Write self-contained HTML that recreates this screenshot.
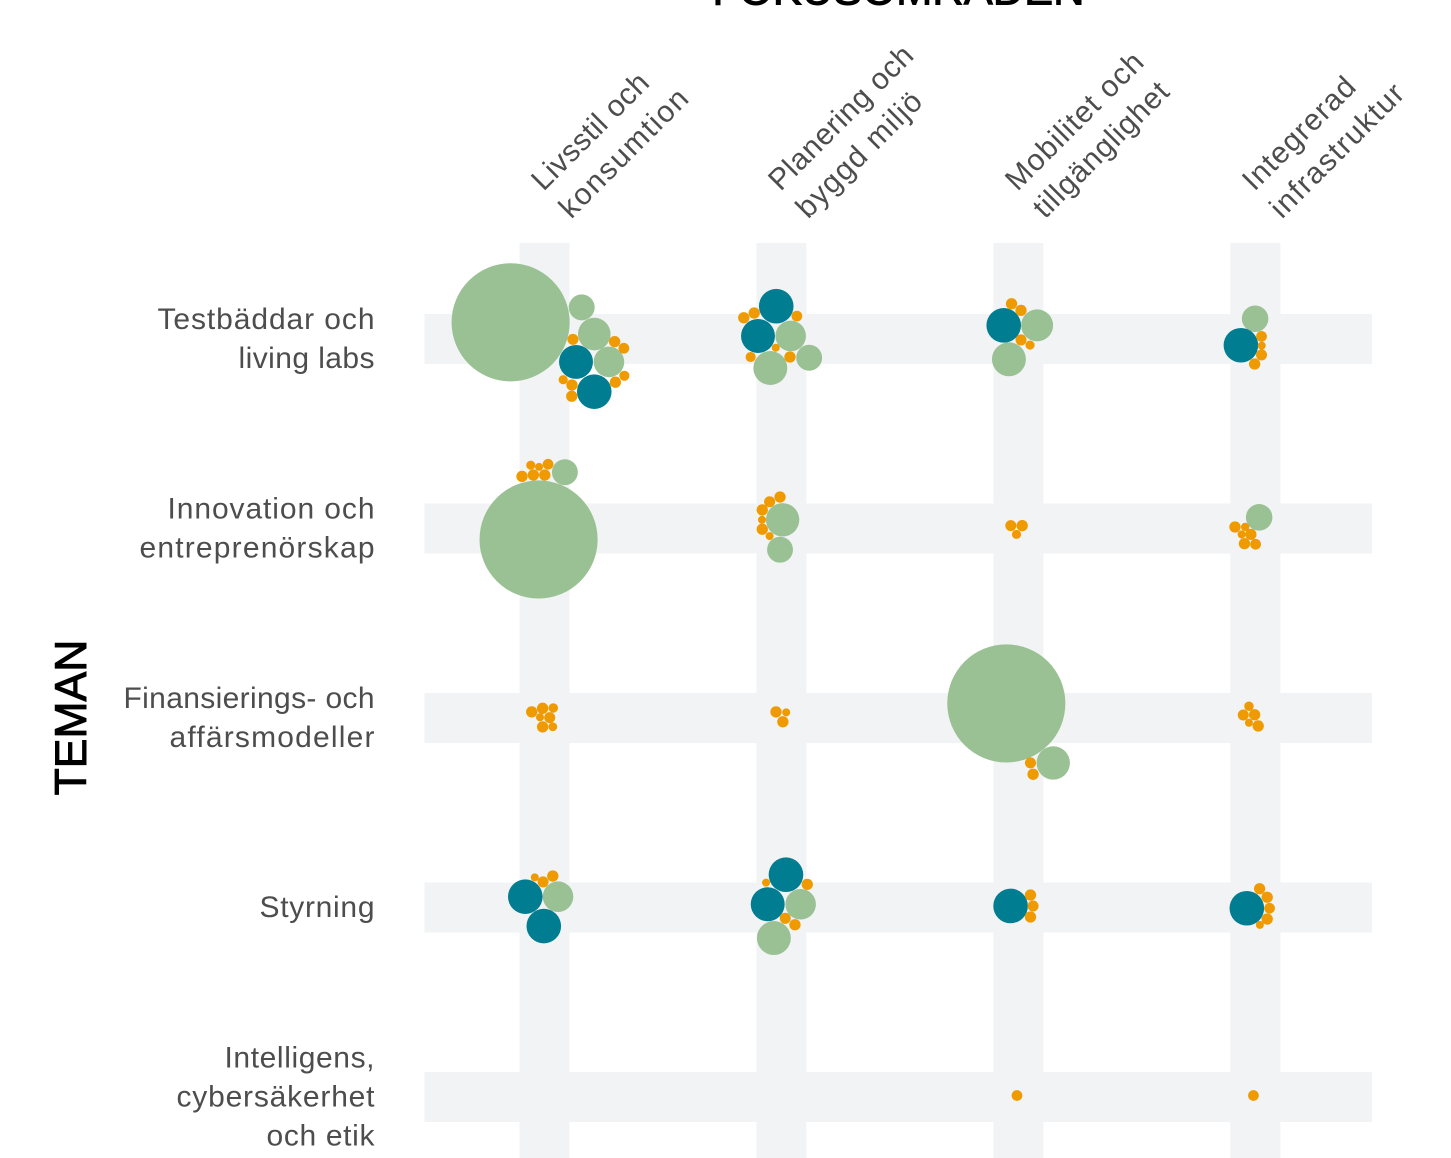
<!DOCTYPE html>
<html lang="sv">
<head>
<meta charset="utf-8">
<title>Fokusområden och teman</title>
<style>
html,body{margin:0;padding:0;background:#fff;width:1451px;height:1158px;overflow:hidden}
svg{display:block}
text{font-family:"Liberation Sans","DejaVu Sans",sans-serif}
.row-label,.col-label{font-size:30px;fill:#4d4d4d}
.axis-title{fill:#000;stroke:#000;stroke-width:1px}
</style>
</head>
<body>
<svg id="chart" width="1451" height="1158" viewBox="0 0 1451 1158" xmlns="http://www.w3.org/2000/svg">
  <rect width="1451" height="1158" fill="#fff"/>
  <g id="bands"></g>
  <g id="bubbles"></g>
  <g id="row-labels"></g>
  <g id="col-labels"></g>
  <text class="axis-title" x="898.5" y="4.5" font-size="43.5" text-anchor="middle">FOKUSOMRÅDEN</text>
  <text class="axis-title" transform="translate(86,717.5) rotate(-90)" font-size="44.5" text-anchor="middle">TEMAN</text>
</svg>
<script>
const focusAreas = [["Livsstil och","konsumtion"],["Planering och","byggd miljö"],["Mobilitet och","tillgänglighet"],["Integrerad","infrastruktur"]];
const themes = [["Testbäddar och","living labs"],["Innovation och","entreprenörskap"],["Finansierings- och","affärsmodeller"],["Styrning"],["Intelligens,","cybersäkerhet","och etik"]];

const greenX = [-0.143,0.157,0.210,0.272,1.039,0.953,1.117,2.079,1.960,2.999,-0.025,0.086,1.005,0.994,3.016,1.949,2.147,0.057,1.081,0.968];
const greenY = [-0.088,-0.167,-0.026,0.121,-0.016,0.153,0.099,-0.072,0.107,-0.107,1.058,0.703,0.954,1.112,0.941,1.923,2.237,2.943,2.983,3.161];
const greenSize = [218,10.5,16.6,14.6,14.6,18,10.5,16,18,11,218,10.5,17.4,10.5,11,218,17.4,14.6,14.6,18];

const tealX = [0.133,0.210,0.978,0.901,1.938,2.939,-0.081,-0.003,1.019,0.942,1.967,2.964];
const tealY = [0.121,0.278,-0.173,-0.016,-0.072,0.033,2.943,3.098,2.827,2.983,2.992,3.004];
const tealSize = [18,18.7,18.7,18,18.7,18.7,18.7,18.7,18.7,18,18.7,18.7];

const orangeX = [0.120,0.296,0.335,0.337,0.299,0.079,0.116,0.115,0.841,0.885,1.065,0.976,0.870,1.036,1.971,2.011,2.011,2.049,3.026,3.027,3.026,2.997,
  -0.095,-0.047,0.001,-0.058,-0.023,0.015,0.994,0.950,0.919,0.918,0.919,0.950,1.968,2.016,1.992,2.914,2.957,2.942,2.981,2.954,3.001,
  -0.054,-0.008,0.037,-0.019,0.022,-0.008,0.035,0.977,1.020,1.006,2.051,2.062,2.973,2.949,2.997,2.973,3.012,
  -0.041,-0.006,0.035,0.935,1.109,1.016,1.057,2.051,2.062,2.051,3.018,3.050,3.060,3.050,3.019,
  1.994,2.992];
const orangeY = [0.002,0.014,0.049,0.194,0.228,0.215,0.243,0.302,-0.112,-0.137,-0.121,0.046,0.095,0.095,-0.186,-0.151,0.005,0.032,-0.014,0.035,0.084,0.132,
  0.725,0.718,0.718,0.666,0.675,0.661,0.834,0.859,0.902,0.954,1.004,1.040,0.985,0.985,1.031,0.992,0.992,1.031,1.031,1.080,1.083,
  1.968,1.949,1.947,1.996,1.998,2.047,2.046,1.968,1.970,2.020,2.237,2.297,1.938,1.984,1.983,2.025,2.042,
  2.841,2.865,2.834,2.869,2.878,3.057,3.091,2.934,2.992,3.050,2.901,2.946,3.004,3.061,3.092,
  3.992,3.992];
const orangeSize = [1.9,2,1.8,1.6,2,1.3,2,2,2,2,1.8,1,1.6,2,2,2,1.9,1.3,1.8,1,1.9,2,
  2,2,2,1.3,1,1.8,2,1.9,2,1,2,1,1.9,2,1.3,2,1.1,1,2,2,1.8,
  2,2,1.4,1,1.9,2,1.2,2,1,2,1.9,2,1.4,1.9,2,1,2,
  1,1.9,2,1,2,1.9,2,2,1.9,2,2,2,1.8,2,1,
  1.8,1.8];

const NS = "http://www.w3.org/2000/svg";
function xScale(v){ return 544.5 + v * 236.95; }
function yScale(v){ return 339 + v * 189.5; }
function rScale(v){ return 4 * Math.sqrt(v); }

// Typesetting only: rendered line lengths, so the substitute font fills the same run as the original.
const lineLengthPx = new Map();
lineLengthPx.set("Livsstil och", 152);
lineLengthPx.set("konsumtion", 168.5);
lineLengthPx.set("Planering och", 190.5);
lineLengthPx.set("byggd miljö", 164);
lineLengthPx.set("Mobilitet och", 181);
lineLengthPx.set("tillgänglighet", 178);
lineLengthPx.set("Integrerad", 146);
lineLengthPx.set("infrastruktur", 175.5);
lineLengthPx.set("Testbäddar och", 217);
lineLengthPx.set("living labs", 136);
lineLengthPx.set("Innovation och", 207);
lineLengthPx.set("entreprenörskap", 235);
lineLengthPx.set("Finansierings- och", 251);
lineLengthPx.set("affärsmodeller", 205);
lineLengthPx.set("Styrning", 115);
lineLengthPx.set("Intelligens,", 150);
lineLengthPx.set("cybersäkerhet", 198);
lineLengthPx.set("och etik", 108);

const bandsG = document.getElementById("bands");
const bubblesG = document.getElementById("bubbles");
const rowLabelsG = document.getElementById("row-labels");
const colLabelsG = document.getElementById("col-labels");

focusAreas.forEach(function(lines, i){
  const band = document.createElementNS(NS, "rect");
  band.setAttribute("x", xScale(i) - 25);
  band.setAttribute("y", 243);
  band.setAttribute("width", 50);
  band.setAttribute("height", 915);
  band.setAttribute("fill", "#f2f3f5");
  
  
  bandsG.appendChild(band);

  const group = document.createElementNS(NS, "g");
  group.setAttribute("transform", "translate(" + (xScale(i) - 1) + ",192) rotate(-45)");
  
  
  lines.forEach(function(line, k){
    const t = document.createElementNS(NS, "text");
    t.setAttribute("class", "col-label");
    t.setAttribute("x", 0);
    t.setAttribute("y", k * 39);
    t.setAttribute("textLength", lineLengthPx.get(line));
    
    
    t.textContent = line;
    group.appendChild(t);
  });
  colLabelsG.appendChild(group);
});

themes.forEach(function(lines, j){
  const band = document.createElementNS(NS, "rect");
  band.setAttribute("x", 424.5);
  band.setAttribute("y", yScale(j) - 25);
  band.setAttribute("width", 947.5);
  band.setAttribute("height", 50);
  band.setAttribute("fill", "#f2f3f5");
  
  
  bandsG.appendChild(band);

  const group = document.createElementNS(NS, "g");
  
  
  lines.forEach(function(line, k){
    const t = document.createElementNS(NS, "text");
    t.setAttribute("class", "row-label");
    t.setAttribute("text-anchor", "end");
    t.setAttribute("x", 374.5);
    t.setAttribute("y", yScale(j) + 9.5 + (k - (lines.length - 1) / 2) * 39);
    t.setAttribute("textLength", lineLengthPx.get(line));
    
    
    t.textContent = line;
    group.appendChild(t);
  });
  rowLabelsG.appendChild(group);
});

function drawSeries(xs, ys, sizes, color, name){
  xs.forEach(function(x, i){
    const c = document.createElementNS(NS, "circle");
    c.setAttribute("cx", xScale(x));
    c.setAttribute("cy", yScale(ys[i]));
    c.setAttribute("r", rScale(sizes[i]));
    c.setAttribute("fill", color);
    
    
    bubblesG.appendChild(c);
  });
}
drawSeries(greenX, greenY, greenSize, "#9ac193", "green-bubble");
drawSeries(tealX, tealY, tealSize, "#007d91", "teal-bubble");
drawSeries(orangeX, orangeY, orangeSize, "#ee9a00", "orange-bubble");
</script>
</body>
</html>
